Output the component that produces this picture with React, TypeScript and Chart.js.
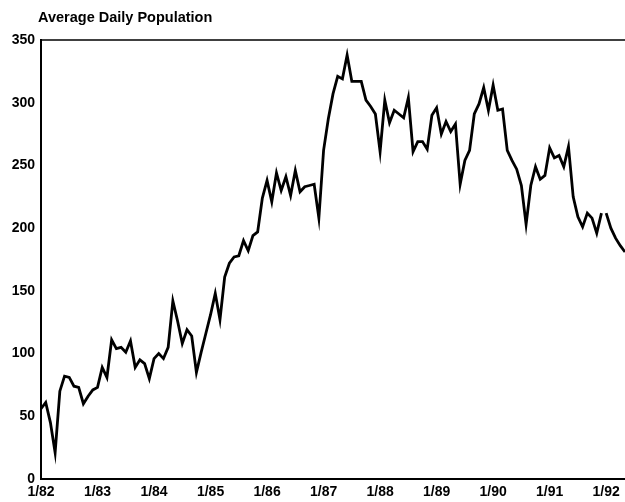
import React, { useEffect, useRef } from "react";
import { Chart, registerables } from "chart.js";

Chart.register(...registerables);

const TITLE = "Average Daily Population";

// x tick labels, one per January (every 12 months starting 1/82)
const tickLabels = ["1/82", "1/83", "1/84", "1/85", "1/86", "1/87", "1/88", "1/89", "1/90", "1/91", "1/92"];
const yTicks = [0, 50, 100, 150, 200, 250, 300, 350];

// monthly average daily population, 1/82 onward
const population = [
  56, 61, 45, 21, 70, 82, 81, 74, 73, 60, 66, 71,
  73, 89, 81, 111, 104, 105, 101, 110, 89, 95, 92, 80,
  96, 100, 96, 105, 142, 126, 108, 119, 114, 85, 101, 116,
  131, 148, 127, 161, 172, 177, 178, 190, 182, 194, 197, 224,
  238, 221, 244, 230, 241, 226, 246, 229, 233, 234, 235, 208,
  262, 287, 307, 321, 319, 338, 317, 317, 317, 302, 297, 291,
  261, 302, 284, 294, 291, 288, 304, 261, 269, 269, 263, 290,
  296, 275, 285, 277, 283, 235, 254, 262, 291, 299, 312, 294,
  314, 294, 295, 262, 254, 247, 234, 203, 234, 249, 239, 242,
  264, 256, 258, 249, 265, 225, 209, 201, 212, 208, 196, 212,
  212, 200, 192, 186, 181,
];

// missing segment (no data between these two months)
const GAP_AFTER_INDEX = 119;

const FONT_FAMILY = "'Liberation Sans', Arial, Helvetica, sans-serif";

export default function App() {
  const ref = useRef<HTMLCanvasElement>(null);

  useEffect(() => {
    document.body.style.margin = "0";
    const canvas = ref.current;
    if (!canvas) return;

    const framePlugin = {
      id: "frameAndTitle",
      afterDraw(chart: any) {
        const { ctx, chartArea } = chart;
        ctx.save();
        // top frame line
        ctx.strokeStyle = "#000";
        ctx.lineWidth = 1.5;
        ctx.beginPath();
        ctx.moveTo(chartArea.left, chartArea.top);
        ctx.lineTo(chartArea.right, chartArea.top);
        ctx.stroke();
        // title
        ctx.fillStyle = "#000";
        ctx.font = `bold 14.5px ${FONT_FAMILY}`;
        ctx.textAlign = "left";
        ctx.textBaseline = "alphabetic";
        ctx.fillText(TITLE, chartArea.left - 3, chartArea.top - 18);
        ctx.restore();
      },
    };

    const chart = new Chart(canvas, {
      type: "line",
      data: {
        datasets: [
          {
            data: population.map((v, i) => ({ x: i, y: v })),
            borderColor: "#000",
            borderWidth: 2.8,
            pointRadius: 0,
            tension: 0,
            fill: false,
            segment: {
              borderColor: (ctx: any) => (ctx.p0DataIndex === GAP_AFTER_INDEX ? "rgba(0,0,0,0)" : "#000"),
            },
          },
        ],
      },
      options: {
        responsive: false,
        animation: false,
        layout: { padding: { top: 40, left: 0, right: 0, bottom: 0 } },
        plugins: {
          legend: { display: false },
          tooltip: { enabled: false },
          title: { display: false },
        },
        scales: {
          x: {
            type: "linear",
            min: 0,
            max: population.length - 1,
            afterBuildTicks: (s: any) => {
              s.ticks = tickLabels.map((_, i) => ({ value: i * 12 }));
            },
            afterFit: (s: any) => {
              s.height = 23;
            },
            ticks: {
              autoSkip: false,
              maxRotation: 0,
              padding: 5,
              color: "#000",
              font: { family: FONT_FAMILY, size: 14, weight: "bold" },
              callback: (v: any) => tickLabels[Math.round(Number(v) / 12)] ?? "",
            },
            grid: { display: false, drawTicks: false },
            border: { display: true, color: "#000", width: 2 },
          },
          y: {
            min: 0,
            max: 350,
            afterBuildTicks: (s: any) => {
              s.ticks = yTicks.map((v) => ({ value: v }));
            },
            afterFit: (s: any) => {
              s.width = 41;
            },
            ticks: {
              padding: 6,
              color: "#000",
              font: { family: FONT_FAMILY, size: 14, weight: "bold" },
            },
            grid: { display: false, drawTicks: false },
            border: { display: true, color: "#000", width: 2 },
          },
        },
      },
      plugins: [framePlugin],
    } as any);

    return () => chart.destroy();
  }, []);

  return <canvas ref={ref} width={625} height={502} style={{ display: "block" }} />;
}
